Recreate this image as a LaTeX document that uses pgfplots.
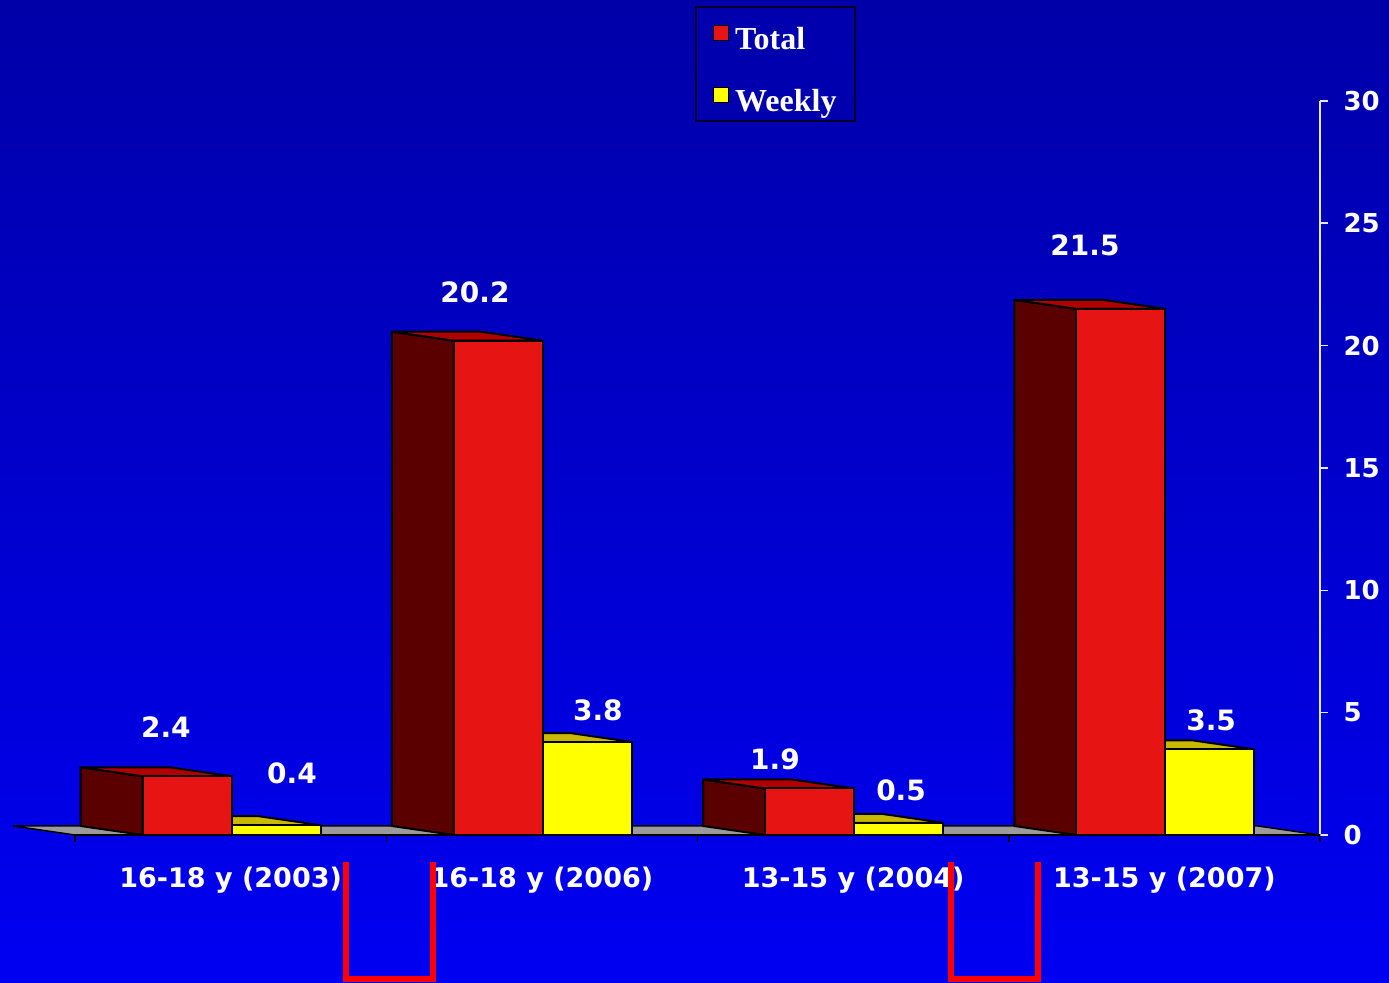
\documentclass[border=0pt]{standalone}
\usepackage{fontspec}
\setmainfont{DejaVu Sans}
\newfontfamily\legfont{Liberation Serif}
\usepackage{pgfplots}
\usepackage{pgfplotstable}
\pgfplotsset{compat=1.18}

\definecolor{bgtop}{RGB}{0,0,168}
\definecolor{bgbot}{RGB}{0,0,242}
\definecolor{redfront}{RGB}{230,20,18}
\definecolor{redside}{RGB}{90,0,0}
\definecolor{redtop}{RGB}{176,0,0}
\definecolor{yelfront}{RGB}{255,255,0}
\definecolor{yeltop}{RGB}{200,185,0}
\definecolor{yelside}{RGB}{140,130,0}
\definecolor{floorgray}{RGB}{155,155,155}
\definecolor{leggbg}{RGB}{0,0,175}
\definecolor{legborder}{RGB}{0,0,40}
\definecolor{yaxiscol}{RGB}{230,230,255}

\pgfplotstableread{
x val
0 2.4
1 20.2
2 1.9
3 21.5
}\totaldata

\pgfplotstableread{
x val
0 0.4
1 3.8
2 0.5
3 3.5
}\weeklydata

\pgfplotstableread{
x y lab
-0.208 4.41 2.4
0.785 22.19 20.2
1.749 3.106 1.9
2.745 24.11 21.5
0.197 2.53 0.4
1.180 5.11 3.8
2.154 1.84 0.5
3.150 4.70 3.5
}\labeldata

\pgfdeclareplotmark{nomark}{}

\pgfplotsset{
  box3d/.style n args={4}{%
    scatter, only marks, mark=nomark, point meta=\thisrow{val},
    visualization depends on={\thisrow{val} \as \barval},
    scatter/@pre marker code/.code={%
      \pgfmathsetlengthmacro\bH{\barval*12.235pt}%
      \pgfmathsetlengthmacro\bHB{\barval*12.235pt+4.5pt}%
      \pgfmathsetlengthmacro\bL{#1}%
      \pgfmathsetlengthmacro\bR{#1+44.5pt}%
      \pgfmathsetlengthmacro\bLB{#1-31pt}%
      \pgfmathsetlengthmacro\bRB{#1+44.5pt-31pt}%
      \draw[fill=#4, draw=black, line width=1pt, line join=round] (\bL,0pt) -- (\bLB,4.5pt) -- (\bLB,\bHB) -- (\bL,\bH) -- cycle;
      \draw[fill=#3, draw=black, line width=1pt, line join=round] (\bL,\bH) -- (\bLB,\bHB) -- (\bRB,\bHB) -- (\bR,\bH) -- cycle;
      \draw[fill=#2, draw=black, line width=1pt, line join=round] (\bL,0pt) rectangle (\bR,\bH);
    },
    scatter/@post marker code/.code={},
  }
}

\begin{document}
\begin{tikzpicture}
\shade[top color=bgtop, bottom color=bgbot] (-37.5pt,-74pt) rectangle (657pt,417.5pt);
\useasboundingbox (-37.5pt,-74pt) rectangle (657pt,417.5pt);
\begin{axis}[
  at={(0pt,0pt)}, anchor=south west,
  x=155.625pt, y=12.235pt,
  xmin=-0.5, xmax=3.5, ymin=0, ymax=30,
  clip=false,
  axis x line*=bottom, axis y line*=right,
  x axis line style={black, line width=1pt},
  y axis line style={draw=yaxiscol, line width=1pt},
  tick align=outside,
  major tick length=3.75pt,
  ytick={0,5,...,30},
  ytick style={draw=yaxiscol, line width=0.75pt},
  xtick={-0.5,0.5,1.5,2.5,3.5},
  xticklabels={},
  xtick style={draw=black, line width=0.75pt},
  extra x ticks={0,1,2,3},
  extra x tick labels={16-18 y (2003),16-18 y (2006),13-15 y (2004),13-15 y (2007)},
  extra x tick style={grid=none, major tick length=0pt,
     xticklabel style={anchor=base, yshift=-26.5pt}},
  /pgf/number format/assume math mode=true,
  ticklabel style={font=\bfseries\fontsize{13.5}{16}\selectfont, text=white},
  yticklabel style={anchor=west, xshift=4.5pt, font=\bfseries\fontsize{13}{16}\selectfont},
  legend cell align=left,
  legend image code/.code={\path (0pt,0pt); \draw[#1, draw=black, line width=0.6pt] (1.2pt,-3.8pt) rectangle (8.8pt,3.8pt);},
  legend style={at={(axis description cs:0.498,1.1295)}, anchor=north west,
    fill=leggbg, draw=legborder, line width=1pt,
    font=\legfont\bfseries\fontsize{16}{19}\selectfont, text=white,
    inner xsep=7pt, inner ysep=1.2pt, row sep=7.5pt},
]
% floor
\draw[fill=floorgray, draw=black, line width=0.75pt, line join=round]
  (axis cs:-0.5,0) -- (axis cs:3.5,0) -- ([shift={(-31pt,4.5pt)}]axis cs:3.5,0)
  -- ([shift={(-31pt,4.5pt)}]axis cs:-0.5,0) -- cycle;
\draw[black, line width=1pt] (axis cs:-0.5,0) -- (axis cs:3.5,0);

\addplot[forget plot, box3d={0.5pt}{yelfront}{yeltop}{yelside}] table[x=x, y expr=0] {\weeklydata};
\addplot[forget plot, box3d={-44pt}{redfront}{redtop}{redside}] table[x=x, y expr=0] {\totaldata};

\addplot[forget plot, only marks, mark=nomark, point meta=explicit symbolic,
  nodes near coords, every node near coord/.append style={anchor=center, text=white,
  font=\bfseries\fontsize{14}{16}\selectfont}] table[x=x, y=y, meta=lab] {\labeldata};

\addlegendimage{fill=redfront}
\addlegendentry{\rule{0pt}{18pt}\hspace{1pt}Total}
\addlegendimage{fill=yelfront}
\addlegendentry{\rule{0pt}{18pt}\hspace{1pt}Weekly}
\end{axis}
\draw[red, line width=3pt, line join=miter] (135.25pt,-13.5pt) -- (135.25pt,-72pt) -- (179pt,-72pt) -- (179pt,-13.5pt);
\draw[red, line width=3pt, line join=miter] (438pt,-13.5pt) -- (438pt,-72pt) -- (481.5pt,-72pt) -- (481.5pt,-13.5pt);
\end{tikzpicture}
\end{document}
